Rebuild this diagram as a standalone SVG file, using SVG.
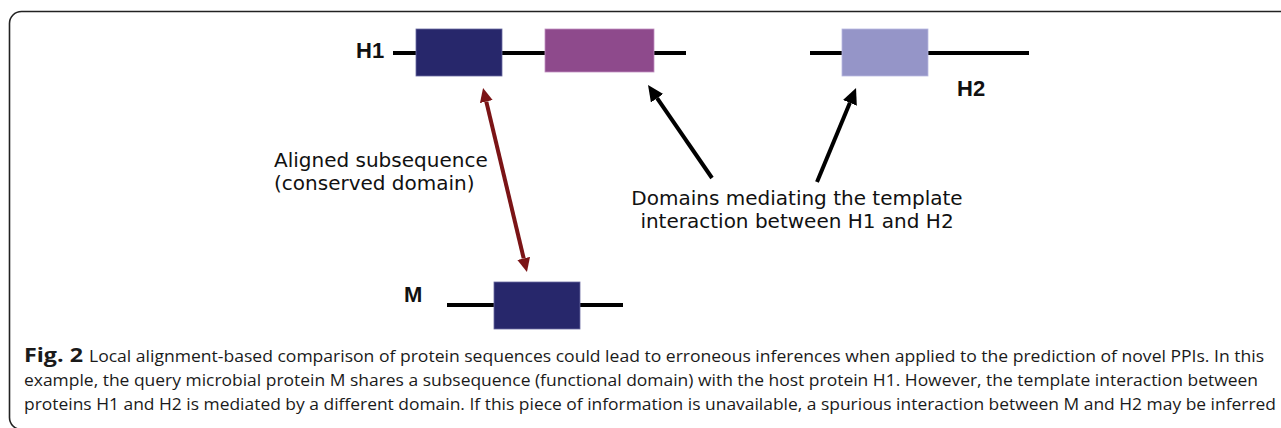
<svg xmlns="http://www.w3.org/2000/svg" width="1281" height="428" viewBox="0 0 1281 428">
  <style>
    .frame { fill: none; stroke: #222; stroke-width: 1.6; }
    .chain { stroke: #000; stroke-width: 4; }
    .label { font-family: "Liberation Sans", Arial, sans-serif; font-weight: bold; font-size: 22px; fill: #111; }
    .note { font-family: "DejaVu Sans", sans-serif; font-size: 20px; fill: #111; }
    .cap { font-family: "Open Sans", "Noto Sans", sans-serif; font-size: 17px; fill: #1a1a1a; }
    .capb { font-family: "Open Sans", "Noto Sans", sans-serif; font-size: 19px; font-weight: bold; fill: #1a1a1a; }
    .dom-dark { fill: #27276b; stroke: #6a6aa0; stroke-width: 0.8; }
    .dom-purple { fill: #8e4a8c; stroke: #c090c0; stroke-width: 0.8; }
    .dom-light { fill: #9595c8; stroke: #b8b8e0; stroke-width: 0.8; }
    .align { stroke: #7b1416; stroke-width: 4; fill: none; }
    .point { stroke: #000; stroke-width: 4; fill: none; }
  </style>
  <defs>
    <marker id="headRed" markerUnits="userSpaceOnUse" markerWidth="16" markerHeight="14" refX="0" refY="6.5" orient="auto-start-reverse">
      <path d="M0,0 L14,6.5 L0,13 z" fill="#7b1416"/>
    </marker>
    <marker id="headBlack" markerUnits="userSpaceOnUse" markerWidth="18" markerHeight="16" refX="0" refY="7.5" orient="auto">
      <path d="M0,0 L16,7.5 L0,15 z" fill="#000"/>
    </marker>
  </defs>

  <rect class="frame" x="9.5" y="11.5" width="1300" height="418" rx="12" ry="12"/>

  <!-- host protein H1 -->
  <g id="H1">
    <text class="label" x="356" y="58">H1</text>
    <line class="chain" x1="393" y1="53" x2="416" y2="53"/>
    <line class="chain" x1="502" y1="53" x2="545" y2="53"/>
    <line class="chain" x1="654" y1="53" x2="686" y2="53"/>
    <rect class="dom-dark" x="416" y="29" width="86" height="47"/>
    <rect class="dom-purple" x="545" y="29" width="109" height="43"/>
  </g>

  <!-- host protein H2 -->
  <g id="H2">
    <line class="chain" x1="810" y1="53" x2="842" y2="53"/>
    <line class="chain" x1="928" y1="53" x2="1029" y2="53"/>
    <rect class="dom-light" x="842" y="29" width="86" height="47"/>
    <text class="label" x="957" y="96">H2</text>
  </g>

  <!-- microbial protein M -->
  <g id="M">
    <text class="label" x="404" y="302">M</text>
    <line class="chain" x1="447" y1="305" x2="494" y2="305"/>
    <line class="chain" x1="580" y1="305" x2="623" y2="305"/>
    <rect class="dom-dark" x="494" y="282" width="86" height="47"/>
  </g>

  <g id="aligned-note">
    <text class="note" x="274" y="167">Aligned subsequence</text>
    <text class="note" x="274" y="190">(conserved domain)</text>
  </g>

  <g id="domains-note">
    <text class="note" x="797" y="205" text-anchor="middle">Domains mediating the template</text>
    <text class="note" x="797" y="228" text-anchor="middle">interaction between H1 and H2</text>
  </g>

  <g id="connectors">
    <line class="align" x1="486.3" y1="101.6" x2="523.7" y2="258.4" marker-start="url(#headRed)" marker-end="url(#headRed)"/>
    <line class="point" x1="712" y1="178" x2="657.1" y2="98.2" marker-end="url(#headBlack)"/>
    <line class="point" x1="817" y1="182" x2="849.9" y2="102.8" marker-end="url(#headBlack)"/>
  </g>

  <g id="caption">
    <text class="capb" x="24" y="362" textLength="59" lengthAdjust="spacingAndGlyphs">Fig. 2</text>
    <text class="cap" x="89" y="362" textLength="1175" lengthAdjust="spacingAndGlyphs">Local alignment-based comparison of protein sequences could lead to erroneous inferences when applied to the prediction of novel PPIs. In this</text>
    <text class="cap" x="24" y="386" textLength="1234" lengthAdjust="spacingAndGlyphs">example, the query microbial protein M shares a subsequence (functional domain) with the host protein H1. However, the template interaction between</text>
    <text class="cap" x="24" y="410" textLength="1252" lengthAdjust="spacingAndGlyphs">proteins H1 and H2 is mediated by a different domain. If this piece of information is unavailable, a spurious interaction between M and H2 may be inferred</text>
  </g>
</svg>
